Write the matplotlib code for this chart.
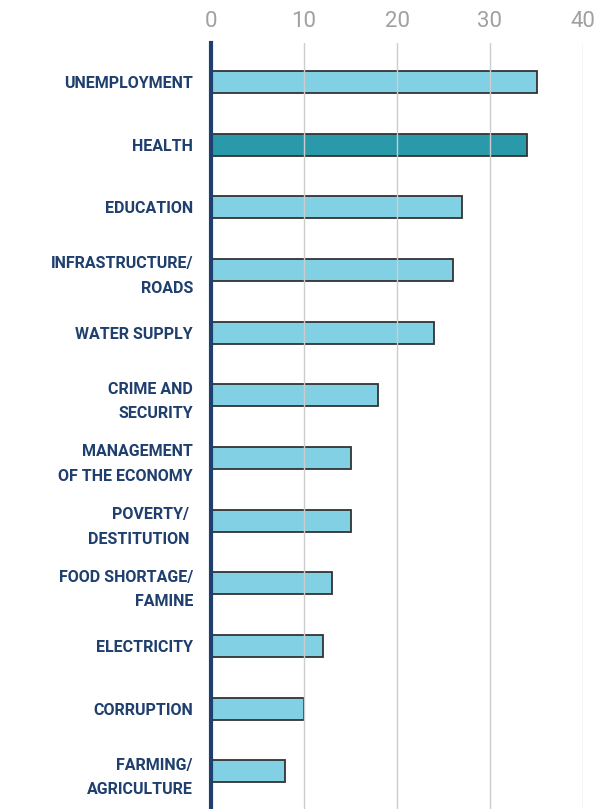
import matplotlib
matplotlib.use("Agg")
import matplotlib.pyplot as plt

categories = ["UNEMPLOYMENT", "HEALTH", "EDUCATION", "INFRASTRUCTURE/\nROADS",
              "WATER SUPPLY", "CRIME AND\nSECURITY", "MANAGEMENT\nOF THE ECONOMY",
              "POVERTY/ \nDESTITUTION ", "FOOD SHORTAGE/\nFAMINE", "ELECTRICITY",
              "CORRUPTION", "FARMING/\nAGRICULTURE"]
values = [35, 34, 27, 26, 24, 18, 15, 15, 13, 12, 10, 8]
highlight = "HEALTH"
xticks = [0, 10, 20, 30, 40]

light = "#82D0E3"
dark = "#2A9AAB"
navy = "#1F3F6E"

fig = plt.figure(figsize=(5.98, 8.09), dpi=100)
ax = fig.add_axes([211/598, 0, (583-211)/598, 1 - 43/809])

ypos = list(range(len(categories)))
colors = [dark if c == highlight else light for c in categories]
ax.barh(ypos, values, height=0.35, color=colors, edgecolor="#333333",
        linewidth=1.3, zorder=2)

ax.set_xlim(0, 40)
ax.set_ylim(len(categories) - 0.4, -0.62)
ax.set_xticks(xticks)
ax.xaxis.tick_top()
ax.tick_params(axis="x", length=0, pad=8, labelsize=16, labelcolor="#a0a0a0")
for lbl in ax.get_xticklabels():
    lbl.set_fontfamily("Roboto")
    lbl.set_fontweight("normal")
ax.grid(axis="x", color="#cccccc", linewidth=1, zorder=3)
ax.set_axisbelow(False)

ax.set_yticks(ypos)
ax.set_yticklabels(categories)
ax.tick_params(axis="y", length=0, pad=13)
for lbl in ax.get_yticklabels():
    lbl.set_fontfamily("Roboto")
    lbl.set_fontweight("bold")
    lbl.set_fontsize(11.5)
    lbl.set_color(navy)
    lbl.set_linespacing(1.8)
    lbl.set_horizontalalignment("right")
    lbl.set_multialignment("right")

for s in ["top", "right", "bottom"]:
    ax.spines[s].set_visible(False)
ax.spines["left"].set_color(navy)
ax.spines["left"].set_linewidth(3)
ax.spines["left"].set_zorder(5)

fig.savefig("out.png", dpi=100)
